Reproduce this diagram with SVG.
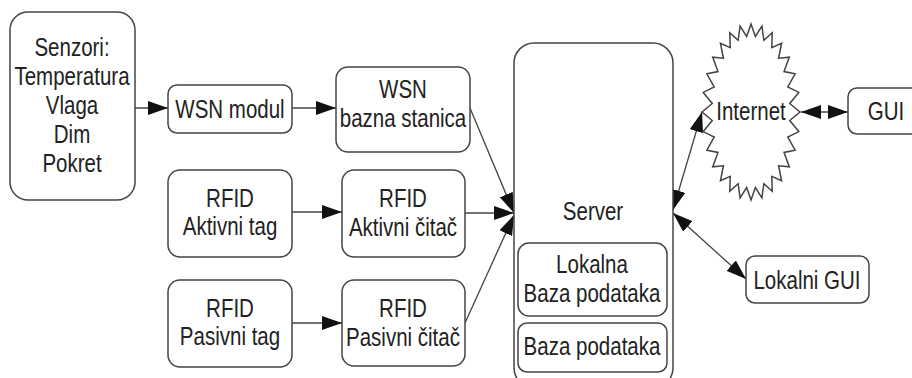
<svg xmlns="http://www.w3.org/2000/svg" width="912" height="378" viewBox="0 0 912 378">
<style>
.box{fill:#fff;stroke:#444;stroke-width:1.5}
.t{font-family:"Liberation Sans",Arial,sans-serif;font-size:25px;fill:#222;text-anchor:middle}
.c{stroke:#444;stroke-width:1.3;fill:none}
</style>
<defs>
<marker id="ah" viewBox="0 0 20 14" refX="20" refY="7" markerWidth="20" markerHeight="14" orient="auto-start-reverse" markerUnits="userSpaceOnUse">
<path d="M0,0 L20,7 L0,14 z" fill="#111"/>
</marker>
</defs>
<rect width="912" height="378" fill="#fff"/>
<g id="connectors">
<line class="c" x1="135" y1="108" x2="168" y2="108" marker-end="url(#ah)"/>
<line class="c" x1="292" y1="108" x2="336" y2="108" marker-end="url(#ah)"/>
<line class="c" x1="292" y1="212" x2="342" y2="212" marker-end="url(#ah)"/>
<line class="c" x1="292" y1="323" x2="342" y2="323" marker-end="url(#ah)"/>
<line class="c" x1="470" y1="108" x2="514" y2="213" marker-end="url(#ah)"/>
<line class="c" x1="465" y1="213" x2="514" y2="213" marker-end="url(#ah)"/>
<line class="c" x1="465" y1="323" x2="514" y2="215" marker-end="url(#ah)"/>
<line class="c" x1="673" y1="210" x2="702" y2="112" marker-start="url(#ah)" marker-end="url(#ah)"/>
<line class="c" x1="801" y1="112" x2="848" y2="112" marker-start="url(#ah)" marker-end="url(#ah)"/>
<line class="c" x1="673" y1="213" x2="746" y2="279" marker-start="url(#ah)" marker-end="url(#ah)"/>
</g>
<g id="senzori">
<rect class="box" x="10" y="12" width="125" height="188" rx="18"/>
<text class="t" transform="matrix(0.82 0 0 1 72 56)">Senzori:</text>
<text class="t" transform="matrix(0.82 0 0 1 72 85)">Temperatura</text>
<text class="t" transform="matrix(0.82 0 0 1 72 114)">Vlaga</text>
<text class="t" transform="matrix(0.82 0 0 1 72 143)">Dim</text>
<text class="t" transform="matrix(0.82 0 0 1 72 172)">Pokret</text>
</g>
<g id="wsn-modul">
<rect class="box" x="168" y="85" width="124" height="48" rx="9"/>
<text class="t" transform="matrix(0.82 0 0 1 230 118)">WSN modul</text>
</g>
<g id="wsn-bazna">
<rect class="box" x="336" y="67" width="134" height="85" rx="12"/>
<text class="t" transform="matrix(0.82 0 0 1 403 98)">WSN</text>
<text class="t" transform="matrix(0.82 0 0 1 403 127)">bazna stanica</text>
</g>
<g id="rfid-aktivni-tag">
<rect class="box" x="168" y="170" width="124" height="87" rx="12"/>
<text class="t" transform="matrix(0.82 0 0 1 230 207)">RFID</text>
<text class="t" transform="matrix(0.82 0 0 1 230 235)">Aktivni tag</text>
</g>
<g id="rfid-aktivni-citac">
<rect class="box" x="342" y="170" width="123" height="87" rx="12"/>
<text class="t" transform="matrix(0.82 0 0 1 403 207)">RFID</text>
<text class="t" transform="matrix(0.82 0 0 1 403 236)">Aktivni čitač</text>
</g>
<g id="rfid-pasivni-tag">
<rect class="box" x="168" y="280" width="124" height="87" rx="12"/>
<text class="t" transform="matrix(0.82 0 0 1 230 317)">RFID</text>
<text class="t" transform="matrix(0.82 0 0 1 230 345)">Pasivni tag</text>
</g>
<g id="rfid-pasivni-citac">
<rect class="box" x="342" y="280" width="123" height="86" rx="12"/>
<text class="t" transform="matrix(0.82 0 0 1 403 317)">RFID</text>
<text class="t" transform="matrix(0.82 0 0 1 403 346)">Pasivni čitač</text>
</g>
<g id="server">
<rect class="box" x="514" y="43" width="159" height="345" rx="20"/>
<text class="t" transform="matrix(0.82 0 0 1 593 220)">Server</text>
</g>
<g id="lokalna-baza">
<rect class="box" x="518" y="243" width="149" height="73" rx="11"/>
<text class="t" transform="matrix(0.82 0 0 1 592 273)">Lokalna</text>
<text class="t" transform="matrix(0.82 0 0 1 592 302)">Baza podataka</text>
</g>
<g id="baza-podataka">
<rect class="box" x="518" y="323" width="149" height="49" rx="9"/>
<text class="t" transform="matrix(0.82 0 0 1 592 355)">Baza podataka</text>
</g>
<g id="internet">
<path class="box" d="M800,112 L789.75,103.49 L798.77,92.42 L787.81,86.9 L795.15,73.82 L784.02,71.57 L789.31,57.13 L778.58,58.26 L781.55,43.2 L771.75,47.65 L772.26,32.71 L763.88,40.27 L761.9,26.21 L755.37,36.48 L751,24 L746.63,36.48 L740.1,26.21 L738.12,40.27 L729.74,32.71 L730.25,47.65 L720.45,43.2 L723.42,58.26 L712.69,57.13 L717.98,71.57 L706.85,73.82 L714.19,86.9 L703.23,92.42 L712.25,103.49 L702,112 L712.25,120.51 L703.23,131.58 L714.19,137.1 L706.85,150.18 L717.98,152.43 L712.69,166.87 L723.42,165.74 L720.45,180.8 L730.25,176.35 L729.74,191.29 L738.12,183.73 L740.1,197.79 L746.63,187.52 L751,200 L755.37,187.52 L761.9,197.79 L763.88,183.73 L772.26,191.29 L771.75,176.35 L781.55,180.8 L778.58,165.74 L789.31,166.87 L784.02,152.43 L795.15,150.18 L787.81,137.1 L798.77,131.58 L789.75,120.51 Z"/>
<text class="t" transform="matrix(0.82 0 0 1 751 120)">Internet</text>
</g>
<g id="gui">
<rect class="box" x="848" y="88" width="72" height="46" rx="9"/>
<text class="t" transform="matrix(0.82 0 0 1 886 120)">GUI</text>
</g>
<g id="lokalni-gui">
<rect class="box" x="746" y="256" width="123" height="47" rx="9"/>
<text class="t" transform="matrix(0.82 0 0 1 807 289)">Lokalni GUI</text>
</g>
</svg>
